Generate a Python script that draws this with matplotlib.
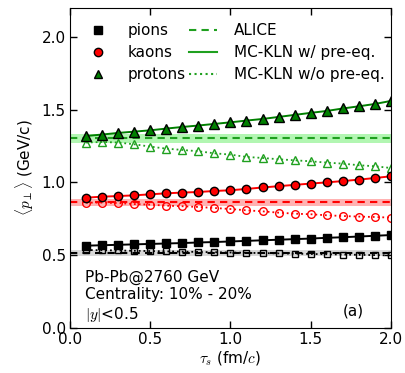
import numpy as np
import matplotlib
matplotlib.use("Agg")
import matplotlib.pyplot as plt

tau = [0.1, 0.2, 0.3, 0.4, 0.5, 0.6, 0.7, 0.8, 0.9, 1.0,
       1.1, 1.2, 1.3, 1.4, 1.5, 1.6, 1.7, 1.8, 1.9, 2.0]

# MC-KLN w/ pre-eq.
pion_pre = [0.565, 0.568, 0.571, 0.574, 0.577, 0.580, 0.583, 0.587, 0.590, 0.594,
            0.598, 0.602, 0.606, 0.610, 0.614, 0.619, 0.623, 0.628, 0.633, 0.638]
kaon_pre = [0.895, 0.902, 0.906, 0.911, 0.918, 0.925, 0.930, 0.934, 0.941, 0.946,
            0.955, 0.965, 0.974, 0.983, 0.992, 1.000, 1.009, 1.019, 1.030, 1.042]
proton_pre = [1.319, 1.329, 1.340, 1.349, 1.358, 1.370, 1.381, 1.391, 1.402, 1.413,
              1.425, 1.436, 1.450, 1.464, 1.478, 1.491, 1.508, 1.523, 1.539, 1.560]

# MC-KLN w/o pre-eq.
pion_nopre = [0.535, 0.534, 0.532, 0.530, 0.528, 0.526, 0.524, 0.522, 0.520, 0.518,
              0.516, 0.514, 0.512, 0.510, 0.508, 0.506, 0.504, 0.502, 0.500, 0.498]
kaon_nopre = [0.861, 0.861, 0.858, 0.851, 0.847, 0.840, 0.836, 0.831, 0.824, 0.817,
              0.808, 0.801, 0.792, 0.785, 0.781, 0.774, 0.769, 0.765, 0.762, 0.758]
proton_nopre = [1.274, 1.278, 1.274, 1.262, 1.246, 1.232, 1.223, 1.214, 1.200, 1.191,
                1.175, 1.168, 1.159, 1.152, 1.145, 1.136, 1.129, 1.118, 1.111, 1.099]

# ALICE mean pT and uncertainty
alice_mean = {"pion": 0.513, "kaon": 0.862, "proton": 1.302}
alice_err = {"pion": 0.021, "kaon": 0.027, "proton": 0.029}

green_face = (0.0, 0.5, 0.0)
green_line = "#1fa01f"

plt.rcParams["font.size"] = 11
plt.rcParams["mathtext.fontset"] = "cm"

fig = plt.figure(figsize=(4.05, 3.73), dpi=100)
ax = fig.add_axes([0.173, 0.121, 0.792, 0.858])

# ALICE bands
ax.fill_between([0, 2], alice_mean["pion"] - alice_err["pion"], alice_mean["pion"] + alice_err["pion"],
                color="0.7", alpha=0.5, lw=0)
ax.fill_between([0, 2], alice_mean["kaon"] - alice_err["kaon"], alice_mean["kaon"] + alice_err["kaon"],
                color="#ff6666", alpha=0.5, lw=0)
ax.fill_between([0, 2], alice_mean["proton"] - alice_err["proton"], alice_mean["proton"] + alice_err["proton"],
                color="#66ee66", alpha=0.5, lw=0)
ax.plot([0, 2], [alice_mean["pion"]] * 2, color="k", lw=1.5, dashes=(3.5, 2.5))
ax.plot([0, 2], [alice_mean["kaon"]] * 2, color="r", lw=1.5, dashes=(3.5, 2.5))
ax.plot([0, 2], [alice_mean["proton"]] * 2, color=green_line, lw=1.5, dashes=(3.5, 2.5))

# w/o pre-eq (open markers, dotted)
ax.plot(tau, pion_nopre, ":", color="k", lw=1.3, marker="s", ms=5, mfc="none", mec="k", mew=1.0)
ax.plot(tau, kaon_nopre, ":", color="r", lw=1.3, marker="o", ms=5.5, mfc="none", mec="r", mew=1.0)
ax.plot(tau, proton_nopre, ":", color=green_line, lw=1.3, marker="^", ms=6, mfc="none", mec=green_line, mew=1.0)

# w/ pre-eq (filled markers, solid)
ax.plot(tau, pion_pre, "-", color="k", lw=1.4, marker="s", ms=5.5, mfc="k", mec="k")
ax.plot(tau, kaon_pre, "-", color="r", lw=1.4, marker="o", ms=6, mfc="r", mec="k")
ax.plot(tau, proton_pre, "-", color=green_face, lw=1.4, marker="^", ms=6.5, mfc=green_face, mec="k")

# legend
h_pi, = ax.plot([], [], "s", color="k", ms=5.5, mec="k")
h_k, = ax.plot([], [], "o", color="r", ms=6, mec="k")
h_p, = ax.plot([], [], "^", color=green_face, ms=6, mec="k")
h_alice, = ax.plot([], [], color=green_line, lw=1.5, dashes=(3.5, 2.5))
h_pre, = ax.plot([], [], "-", color=green_line, lw=1.5)
h_nopre, = ax.plot([], [], ":", color=green_line, lw=1.5)
ax.legend([h_pi, h_k, h_p, h_alice, h_pre, h_nopre],
          ["pions", "kaons", "protons", "ALICE", "MC-KLN w/ pre-eq.", "MC-KLN w/o pre-eq."],
          ncol=2, loc="upper left", frameon=False, fontsize=11, numpoints=1,
          handlelength=1.8, columnspacing=0.2, handletextpad=1.1,
          labelspacing=0.45, bbox_to_anchor=(0.0, 0.995))

ax.text(0.047, 0.012, "Pb-Pb@2760 GeV\nCentrality: 10% - 20%\n$|y|$<0.5",
        transform=ax.transAxes, fontsize=11, ha="left", va="bottom", linespacing=1.2)
ax.text(0.85, 0.03, "(a)", transform=ax.transAxes, fontsize=11, ha="left", va="bottom")

ax.set_xlim(0, 2)
ax.set_ylim(0, 2.2)
ax.set_xticks(np.arange(0, 2.01, 0.5))
ax.set_yticks(np.arange(0, 2.01, 0.5))
ax.tick_params(direction="in", top=True, right=True, length=5, width=1, pad=3)
ax.set_xlabel(r"$\tau_s$ (fm/$c$)", labelpad=2)
ax.set_ylabel(r"$\langle p_\perp \rangle$ (GeV/c)")

fig.savefig("out.png", dpi=100)
